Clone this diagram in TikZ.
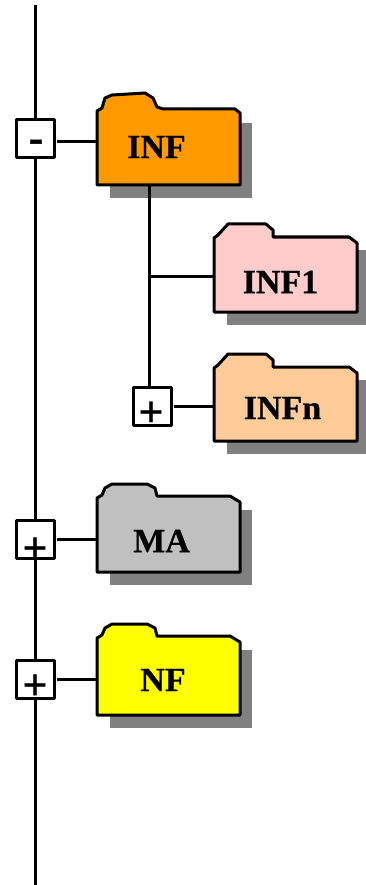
\documentclass[tikz,border=0pt]{standalone}
\usepackage{fontspec}
\setmainfont{Liberation Serif}
\definecolor{shadowgray}{HTML}{808080}
\definecolor{infcolor}{HTML}{FF9900}
\definecolor{infonecolor}{HTML}{FFCCCC}
\definecolor{infncolor}{HTML}{FFCC99}
\definecolor{macolor}{HTML}{C0C0C0}
\definecolor{nfcolor}{HTML}{FFFF00}
\tikzset{
    treeline/.style={line width=3pt},
    foldertext/.style={inner sep=0pt,font=\bfseries\fontsize{34}{34}\selectfont\addfontfeature{FakeBold=0.6}},
    signtext/.style={inner sep=0pt,font=\bfseries\fontsize{44}{44}\selectfont\addfontfeature{FakeBold=0.8}},
    signbox/.style={draw,fill=white,line width=3pt,minimum size=38pt,inner sep=0pt},
    folderbody/.style={minimum width=143pt,minimum height=75pt,inner sep=0pt,anchor=north west}
}
\newcommand{\bumptab}{(0,1) -- (5,-2) -- (8,-12) -- (15,-15) -- (48,-17) -- (56,-12) -- (60,-3) -- (66,-1) -- (138,-1) -- (143,3)}
\newcommand{\roundtab}{(0,1) -- (5,-2) -- (8,-9) -- (15,-13) -- (50,-13) -- (58,-9) -- (60,-1) -- (133,-1) -- (143,5)}
\newcommand{\sharptab}{(0,1) -- (4,-2) -- (14,-13) -- (52,-13) -- (59,-7) -- (59,0) -- (135,0) -- (143,6)}
\newcommand{\drawfolder}[5]{
    \fill[shadowgray] (#2) ++(13,13) rectangle ++(142,#5);
    \draw[treeline,line join=round,fill=#3,shift={(#2)}] #4 -- (143,#5) -- (0,#5) -- cycle;
    \node[folderbody] (#1) at (#2) {};
}
\begin{document}
\begin{tikzpicture}[x=1pt,y=-1pt,line join=round]
    \useasboundingbox (0,0) rectangle (365,885);
    \coordinate (spinetop) at (35.5,5);
    \coordinate (spinebottom) at (35.5,885);
    \coordinate (infjoin) at (149,276);
    \draw[treeline] (spinetop) -- (spinebottom);
    \drawfolder{inf}{97,110}{infcolor}{\bumptab}{75}
    \drawfolder{infone}{214,237}{infonecolor}{\sharptab}{75}
    \drawfolder{infn}{214,367}{infncolor}{\sharptab}{74}
    \drawfolder{ma}{97,497}{macolor}{\roundtab}{75}
    \drawfolder{nf}{97,637}{nfcolor}{\roundtab}{78}
    \node[foldertext] (inflabel) at (156.5,147) {INF};
    \node[foldertext] (infonelabel) at (280.5,282) {INF1};
    \node[foldertext] (infnlabel) at (282.5,408) {INFn};
    \node[foldertext] (malabel) at (161.5,541) {MA};
    \node[foldertext] (nflabel) at (163,680) {NF};
    \foreach \name/\x/\y in {inf/35.5/139, infn/152/406, ma/35.5/539, nf/35.5/679}
    {\node[signbox] (box\name) at (\x,\y) {};}
    \node[signtext] (signinf) at (36,146) {-};
    \node[signtext] (signinfn) at (151,414) {+};
    \node[signtext] (signma) at (35,550) {+};
    \node[signtext] (signnf) at (35,687) {+};
    \draw[treeline] (infjoin |- inf.south) -- (infjoin |- boxinfn.north);
    \draw[treeline] (infjoin) -- (infjoin -| infone.west);
    \draw[treeline,shorten <=1pt] ([yshift=-3pt]boxinf.east) -- ([yshift=-3pt]boxinf.east -| inf.west);
    \foreach \name/\target in {infn/infn, ma/ma, nf/nf}
    {\draw[treeline,shorten <=1pt] (box\name.east) -- (box\name.east -| \target.west);}
\end{tikzpicture}
\end{document}
